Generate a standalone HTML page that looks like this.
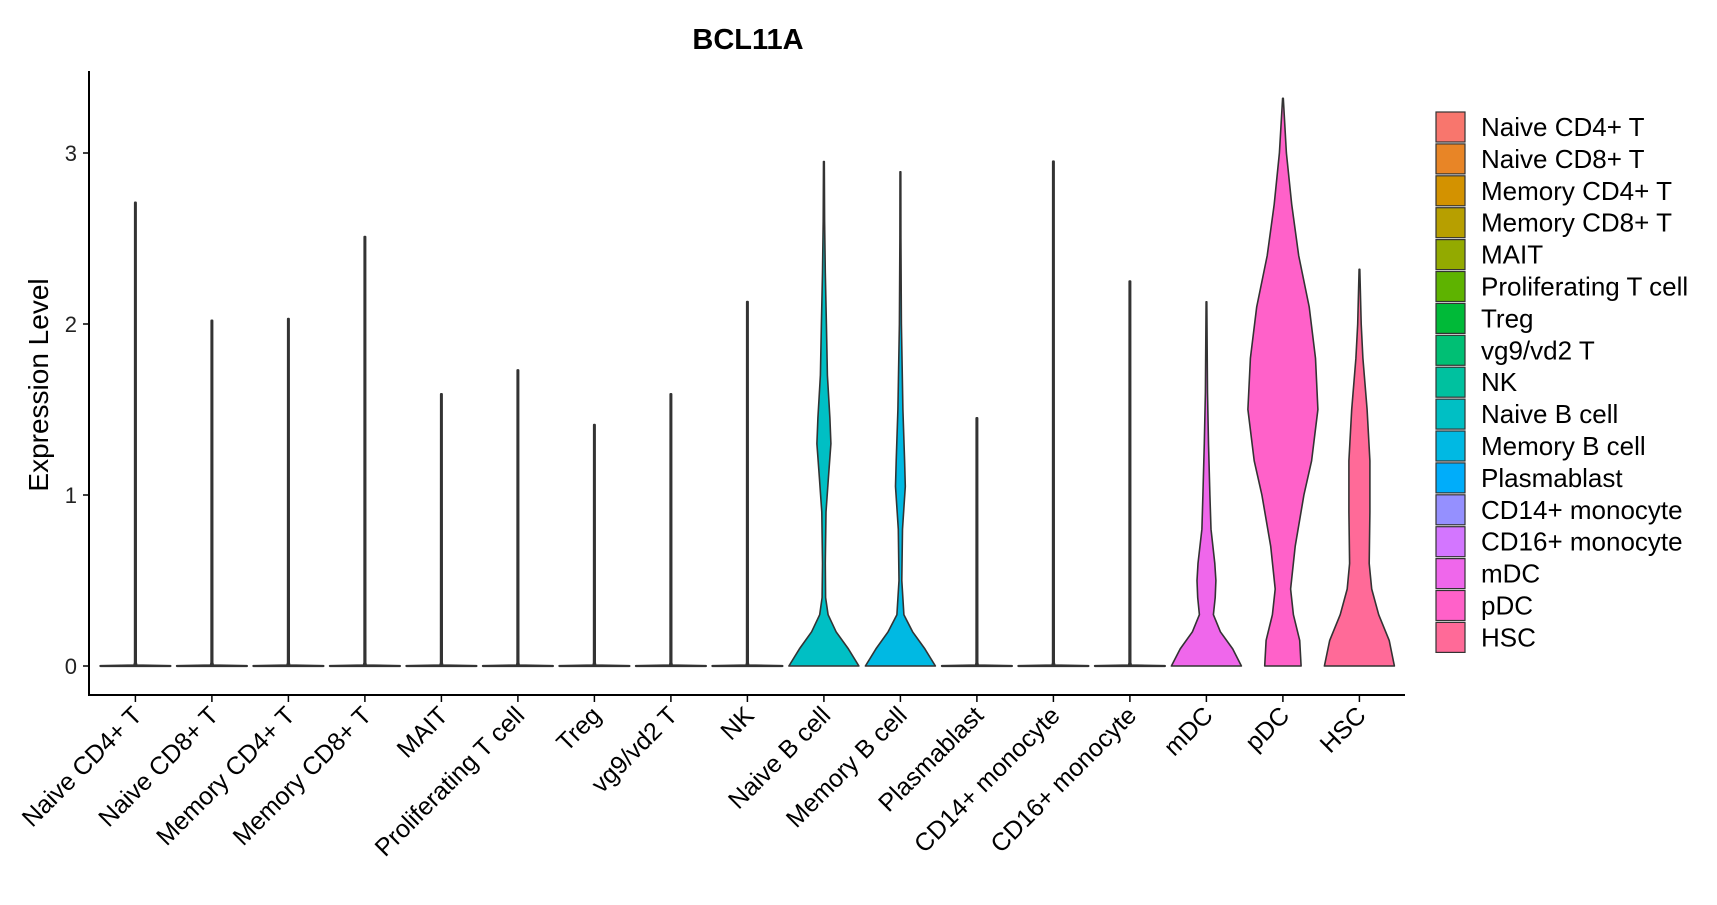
<!DOCTYPE html>
<html><head><meta charset="utf-8"><style>
body{margin:0;background:#fff;}
svg text{font-family:"Liberation Sans","DejaVu Sans",sans-serif;}
</style></head><body>
<svg id="chart" width="1717" height="900" viewBox="0 0 1717 900" xmlns="http://www.w3.org/2000/svg">
<text x="748" y="49" text-anchor="middle" font-size="29" font-weight="bold" fill="#000">BCL11A</text>
<text transform="translate(48,385) rotate(-90)" text-anchor="middle" font-size="28" fill="#000">Expression Level</text>
<g id="plot"></g>
<g id="legend"></g>
</svg>
<script>
const categories=["Naive CD4+ T","Naive CD8+ T","Memory CD4+ T","Memory CD8+ T","MAIT","Proliferating T cell","Treg","vg9/vd2 T","NK","Naive B cell","Memory B cell","Plasmablast","CD14+ monocyte","CD16+ monocyte","mDC","pDC","HSC"];
const colors=["#F8766D","#E88526","#D39200","#B79F00","#93AA00","#5EB300","#00BA38","#00BF74","#00C19F","#00BFC4","#00B9E3","#00ADFA","#9590FF","#D376FF","#EF67EB","#FF61C9","#FF6A98"];
const maxValues=[2.71,2.02,2.03,2.51,1.59,1.73,1.41,1.59,2.13,2.95,2.89,1.45,2.95,2.25,2.13,3.32,2.32];
const yTicks=[0,1,2,3];
// density profiles: [value, relative half-width]
const profiles={
 "Naive B cell":[[0,1],[0.1,0.7],[0.2,0.35],[0.3,0.12],[0.4,0.05],[0.6,0.04],[0.9,0.06],[1.1,0.13],[1.3,0.2],[1.45,0.17],[1.7,0.1],[2.0,0.07],[2.3,0.04],[2.6,0.02],[2.95,0.01]],
 "Memory B cell":[[0,1],[0.1,0.7],[0.2,0.35],[0.3,0.1],[0.5,0.04],[0.8,0.06],[1.05,0.14],[1.2,0.12],[1.5,0.07],[2.0,0.03],[2.5,0.015],[2.89,0.01]],
 "mDC":[[0,1],[0.1,0.75],[0.2,0.4],[0.3,0.2],[0.4,0.25],[0.5,0.27],[0.6,0.24],[0.8,0.13],[1.0,0.1],[1.3,0.06],[1.6,0.03],[2.13,0.01]],
 "pDC":[[0,0.52],[0.15,0.48],[0.3,0.3],[0.45,0.22],[0.7,0.35],[1.0,0.6],[1.2,0.82],[1.5,1.0],[1.8,0.93],[2.1,0.75],[2.4,0.45],[2.7,0.25],[3.0,0.1],[3.32,0.01]],
 "HSC":[[0,1],[0.15,0.85],[0.3,0.55],[0.45,0.35],[0.6,0.28],[0.9,0.3],[1.2,0.3],[1.5,0.22],[1.8,0.1],[2.0,0.05],[2.32,0.01]]
};
const NS="http://www.w3.org/2000/svg";
const x0=135.4,dx=76.5,y0=666,unit=171,axisY=695;
const xs=i=>x0+i*dx, ys=v=>y0-v*unit, half=35;
const plot=document.getElementById('plot');
function mk(tag,attrs,parent){const e=document.createElementNS(NS,tag);for(const k in attrs)e.setAttribute(k,attrs[k]);(parent||plot).appendChild(e);return e;}
categories.forEach((c,i)=>{
  let prof=profiles[c]||[[0,1],[0.004,0.03],[0.02,0.015],[maxValues[i],0.012]];
  const cx=xs(i);
  let right=prof.map(p=>[cx+p[1]*half,ys(p[0])]);
  let left=prof.slice().reverse().map(p=>[cx-p[1]*half,ys(p[0])]);
  const pts=right.concat(left);
  let d="M"+cx+","+y0+" "+pts.map(p=>"L"+p[0].toFixed(1)+","+p[1].toFixed(1)).join(" ")+" Z";
  const v=mk('path',{d:d,fill:colors[i],stroke:"#333","stroke-width":profiles[c]?1.6:2.2,"stroke-linejoin":"round"});
  
  
  const t=mk('line',{x1:cx,x2:cx,y1:axisY,y2:axisY+7,stroke:"#000","stroke-width":1.5});
  
  
  const lab=mk('text',{transform:`translate(${cx+8},${axisY+22}) rotate(-45)`,"text-anchor":"end","font-size":25,fill:"#000"});
  lab.textContent=c;
  
  
});
yTicks.forEach(v=>{
  const t=mk('line',{x1:83,x2:89,y1:ys(v),y2:ys(v),stroke:"#000","stroke-width":1.5});
  
  
  const l=mk('text',{x:77,y:ys(v)+8,"text-anchor":"end","font-size":22,fill:"#222"});
  l.textContent=v;
  
  
});
const ya=mk('line',{x1:89,x2:89,y1:71,y2:696,stroke:"#000","stroke-width":2});


const xa=mk('line',{x1:88,x2:1405,y1:axisY,y2:axisY,stroke:"#000","stroke-width":2});


const lg=document.getElementById('legend');
categories.forEach((c,i)=>{
  const y=112+i*31.9;
  const r=mk('rect',{x:1436,y:y,width:29,height:30,fill:colors[i],stroke:"#333","stroke-width":1.2},lg);
  
  
  const t=mk('text',{x:1481,y:y+24,"font-size":26,fill:"#000"},lg);
  t.textContent=c;
  
  
});
</script>
</body></html>
